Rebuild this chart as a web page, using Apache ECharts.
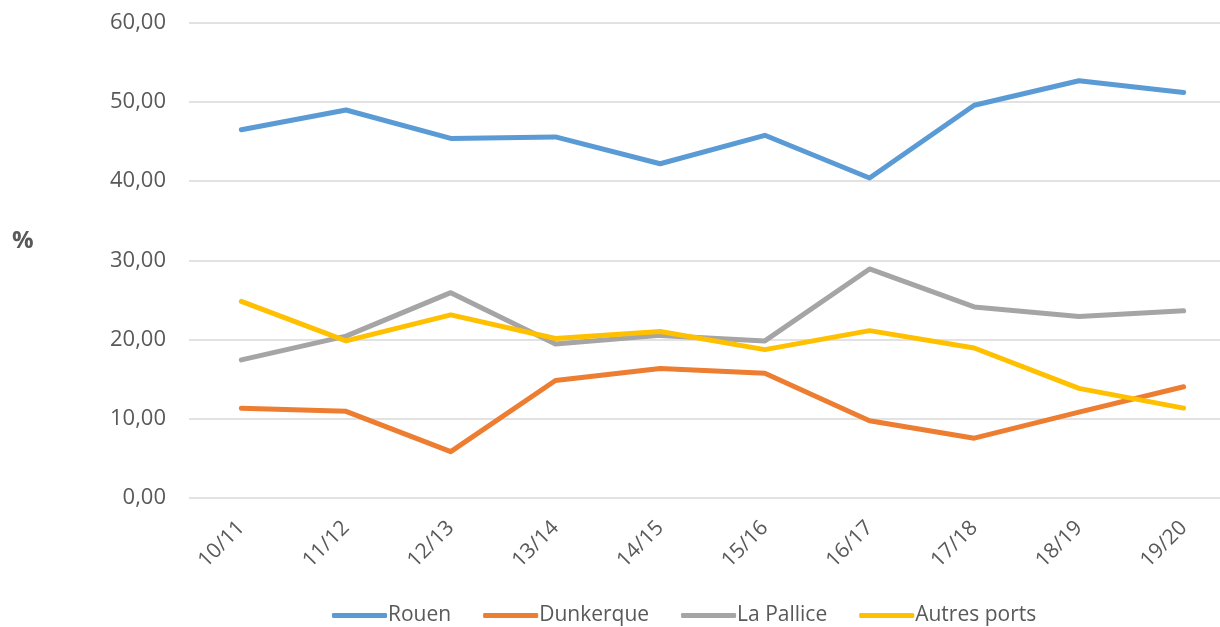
<!DOCTYPE html>
<html>
<head>
<meta charset="utf-8">
<script src="https://cdn.jsdelivr.net/npm/echarts@6/dist/echarts.min.js"></script>
<style>
	html, body { margin: 0; padding: 0; background: #fff; }
	#chart { width: 1220px; height: 627px; }
</style>
</head>
<body>
<div id="chart"></div>
<script>
const seasons = ['10/11', '11/12', '12/13', '13/14', '14/15', '15/16', '16/17', '17/18', '18/19', '19/20']
const rouen = [46.5, 49.0, 45.4, 45.6, 42.2, 45.8, 40.4, 49.6, 52.7, 51.2]
const dunkerque = [11.3, 10.9, 5.8, 14.8, 16.3, 15.7, 9.7, 7.5, 10.8, 14.0]
const laPallice = [17.4, 20.4, 25.9, 19.4, 20.5, 19.8, 28.9, 24.1, 22.9, 23.6]
const autresPorts = [24.8, 19.8, 23.1, 20.1, 21.0, 18.7, 21.1, 18.9, 13.8, 11.3]

const font = 'Open Sans'
const textColor = '#595959'

function line(name, data, color) {
	return {
		name: name,
		type: 'line',
		data: data,
		symbol: 'none',
		lineStyle: { width: 5, color: color, cap: 'round', join: 'round' },
		itemStyle: { color: color }
	}
}

const chart = echarts.init(document.getElementById('chart'))
chart.setOption({
	animation: false,
	textStyle: { fontFamily: font },
	grid: {
		left: 189,
		top: 23,
		width: 1047,
		height: 474.5,
		outerBoundsMode: 'none'
	},
	xAxis: {
		type: 'category',
		data: seasons,
		boundaryGap: true,
		axisLine: { show: false },
		axisTick: { show: false },
		axisLabel: {
			rotate: 45,
			margin: 27,
			fontSize: 21,
			color: textColor,
			fontFamily: font
		}
	},
	yAxis: {
		type: 'value',
		min: 0,
		max: 60,
		interval: 10,
		axisLine: { show: false },
		axisTick: { show: false },
		splitLine: { lineStyle: { color: '#d9d9d9', width: 1.5 } },
		axisLabel: {
			margin: 23,
			fontSize: 22,
			color: textColor,
			fontFamily: font,
			formatter: v => v.toFixed(2).replace('.', ',')
		}
	},
	legend: {
		top: 600,
		left: 327,
		itemWidth: 55,
		itemHeight: 5,
		itemGap: 32,
		icon: 'roundRect',
		textStyle: { fontSize: 21, color: textColor, fontFamily: font, padding: [0, 0, 0, -4] },
		data: ['Rouen', 'Dunkerque', 'La Pallice', 'Autres ports']
	},
	graphic: [{
		type: 'text',
		left: 12,
		top: 229,
		style: {
			text: '%',
			font: 'bold 24px "Open Sans"',
			fill: textColor
		}
	}],
	series: [
		line('Rouen', rouen, '#5b9bd5'),
		line('Dunkerque', dunkerque, '#ed7d31'),
		line('La Pallice', laPallice, '#a5a5a5'),
		line('Autres ports', autresPorts, '#ffc000')
	]
})
</script>
</body>
</html>
